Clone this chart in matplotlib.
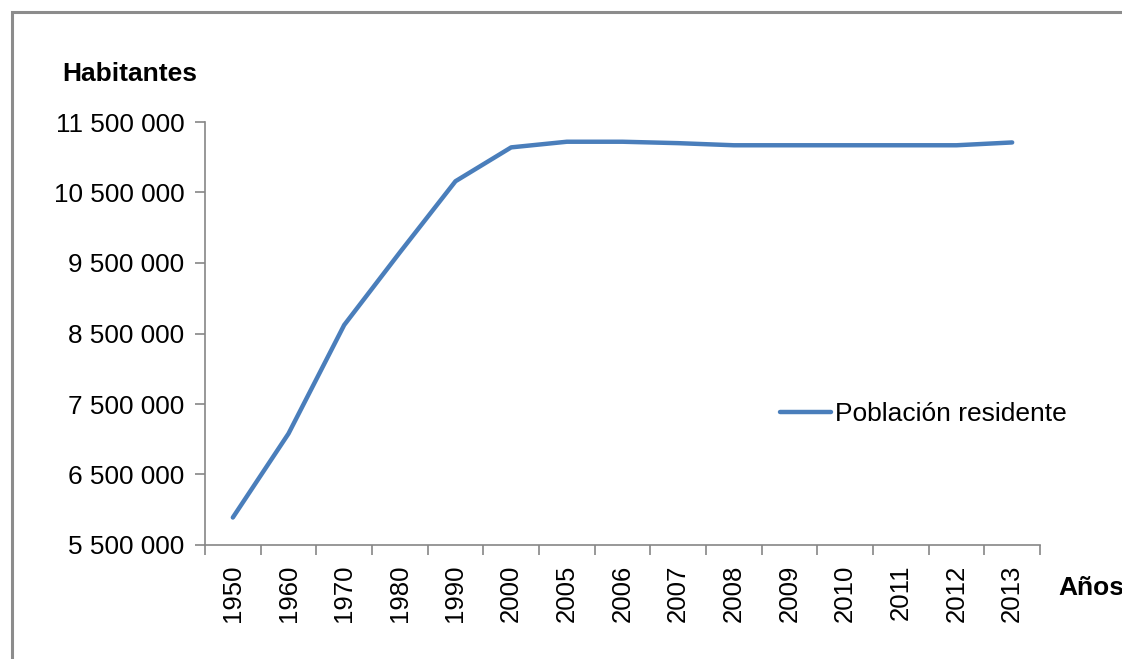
import matplotlib
matplotlib.use("Agg")
from matplotlib import pyplot as plt
from matplotlib.patches import Rectangle
from matplotlib.ticker import FuncFormatter

plt.rcParams['font.family'] = ['Liberation Sans', 'DejaVu Sans']

years = ["1950", "1960", "1970", "1980", "1990", "2000", "2005", "2006",
         "2007", "2008", "2009", "2010", "2011", "2012", "2013"]
poblacion = [5890000, 7080000, 8620000, 9650000, 10660000, 11140000, 11220000,
             11220000, 11200000, 11170000, 11170000, 11170000, 11170000,
             11170000, 11210000]
y_ticks = [5500000, 6500000, 7500000, 8500000, 9500000, 10500000, 11500000]

blue = "#4a7ebb"
gray = "#868686"

fig = plt.figure(figsize=(11.22, 6.59), dpi=100)
# outer chart border (cut off at right and bottom)
fig.add_artist(Rectangle((12 / 1122, -0.1), 1.2, (659 - 12) / 659 + 0.1,
                         transform=fig.transFigure, fill=False,
                         edgecolor="#8c8c8c", linewidth=2.2))

ax = fig.add_axes([205 / 1122, (659 - 545) / 659, 835 / 1122, 423 / 659])
x = list(range(len(years)))
ax.plot(x, poblacion, color=blue, linewidth=3.2, solid_capstyle="round",
        label="Población residente")

ax.set_xlim(-0.5, len(years) - 0.5)
ax.set_ylim(5500000, 11500000)

for s in ["top", "right"]:
    ax.spines[s].set_visible(False)
for s in ["left", "bottom"]:
    ax.spines[s].set_color(gray)
    ax.spines[s].set_linewidth(1.2)

ax.set_yticks(y_ticks)
ax.yaxis.set_major_formatter(FuncFormatter(lambda v, p: f"{int(v):,}".replace(",", " ")))
ax.tick_params(axis="y", length=7, color=gray, width=1.2, labelsize=18.8, pad=8)

# ticks between categories, labels centred on categories
ax.set_xticks([i - 0.5 for i in range(len(years) + 1)])
ax.set_xticklabels([])
ax.tick_params(axis="x", which="major", length=7, color=gray, width=1.2)
ax.set_xticks(x, minor=True)
ax.set_xticklabels(years, minor=True, rotation=90)
ax.tick_params(axis="x", which="minor", length=0, labelsize=18.5, pad=14)

fig.text(62 / 1122, 1 - 74 / 659, "Habitantes", fontsize=19, fontweight="bold",
         va="center", ha="left")
fig.text(1058 / 1122, 1 - 588 / 659, "Años", fontsize=19, fontweight="bold",
         va="center", ha="left")

ax.legend(loc="center left", bbox_to_anchor=(0.66, 0.31), frameon=False,
          fontsize=19, handlelength=1.95, handletextpad=0.15)

fig.savefig("out.png", dpi=100)
